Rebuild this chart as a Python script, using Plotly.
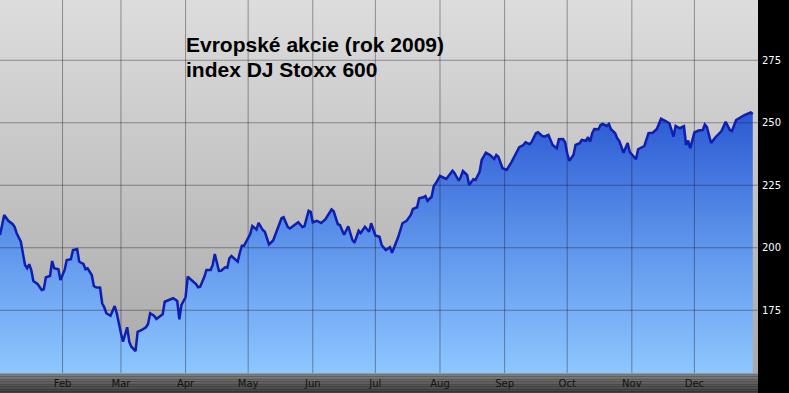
import plotly.graph_objects as go

# ---------------- data ----------------
dates = [
"2009-01-02","2009-01-04","2009-01-06","2009-01-08","2009-01-09","2009-01-10","2009-01-12","2009-01-13","2009-01-14","2009-01-15",
"2009-01-16","2009-01-17","2009-01-18","2009-01-20","2009-01-21","2009-01-22","2009-01-23","2009-01-24","2009-01-26","2009-01-27",
"2009-01-28","2009-01-30","2009-01-31","2009-02-02","2009-02-03","2009-02-05","2009-02-06","2009-02-08","2009-02-09","2009-02-11",
"2009-02-12","2009-02-13","2009-02-15","2009-02-16","2009-02-17","2009-02-19","2009-02-20","2009-02-21","2009-02-22","2009-02-24",
"2009-02-26","2009-02-27","2009-03-01","2009-03-02","2009-03-04","2009-03-05","2009-03-06","2009-03-08","2009-03-09","2009-03-11",
"2009-03-13","2009-03-14","2009-03-15","2009-03-17","2009-03-18","2009-03-20","2009-03-21","2009-03-22","2009-03-25","2009-03-26",
"2009-03-28","2009-03-29","2009-03-30","2009-04-01","2009-04-02","2009-04-04","2009-04-06","2009-04-07","2009-04-08","2009-04-10",
"2009-04-11","2009-04-13","2009-04-14","2009-04-15","2009-04-17","2009-04-18","2009-04-20","2009-04-21","2009-04-22","2009-04-23",
"2009-04-24","2009-04-26","2009-04-27","2009-04-28","2009-04-29","2009-05-01","2009-05-02","2009-05-03","2009-05-05","2009-05-06",
"2009-05-08","2009-05-09","2009-05-11","2009-05-13","2009-05-15","2009-05-17","2009-05-18","2009-05-20","2009-05-21","2009-05-23",
"2009-05-25","2009-05-27","2009-05-28","2009-05-30","2009-05-31","2009-06-01","2009-06-03","2009-06-05","2009-06-07","2009-06-10",
"2009-06-11","2009-06-13","2009-06-14","2009-06-16","2009-06-18","2009-06-20","2009-06-21","2009-06-23","2009-06-24","2009-06-26",
"2009-06-28","2009-06-29","2009-07-01","2009-07-03","2009-07-04","2009-07-06","2009-07-08","2009-07-09","2009-07-11","2009-07-12",
"2009-07-14","2009-07-16","2009-07-18","2009-07-19","2009-07-21","2009-07-22","2009-07-24","2009-07-25","2009-07-26","2009-07-28",
"2009-07-29","2009-07-30","2009-08-01","2009-08-03","2009-08-04","2009-08-07","2009-08-08","2009-08-10","2009-08-11","2009-08-12",
"2009-08-14","2009-08-15","2009-08-17","2009-08-18","2009-08-20","2009-08-21","2009-08-23","2009-08-25","2009-08-27","2009-08-28",
"2009-08-29","2009-08-31","2009-09-02","2009-09-04","2009-09-06","2009-09-08","2009-09-10","2009-09-11","2009-09-13","2009-09-14",
"2009-09-16","2009-09-17","2009-09-19","2009-09-20","2009-09-22","2009-09-24","2009-09-26","2009-09-27","2009-09-29","2009-09-30",
"2009-10-01","2009-10-02","2009-10-04","2009-10-05","2009-10-07","2009-10-08","2009-10-10","2009-10-11","2009-10-12","2009-10-13",
"2009-10-14","2009-10-16","2009-10-17","2009-10-18","2009-10-20","2009-10-21","2009-10-22","2009-10-24","2009-10-25","2009-10-26",
"2009-10-28","2009-10-30","2009-10-31","2009-11-01","2009-11-03","2009-11-04","2009-11-07","2009-11-09","2009-11-11","2009-11-13",
"2009-11-15","2009-11-17","2009-11-19","2009-11-21","2009-11-22","2009-11-24","2009-11-26","2009-11-27","2009-11-28","2009-11-29",
"2009-12-01","2009-12-03","2009-12-05","2009-12-06","2009-12-07","2009-12-09","2009-12-11","2009-12-14","2009-12-16","2009-12-18",
"2009-12-19","2009-12-21","2009-12-24","2009-12-25","2009-12-28","2009-12-29",
]

stoxx600 = [
205.1,213.1,210.8,209.5,208.4,205.8,202.4,197.8,193.1,191.8,
193.4,191.1,186.7,185.5,184.2,183.1,183.4,188.2,188.7,194.7,
191.8,191.4,187.1,191.1,195.1,195.4,199.1,199.5,194.4,193.5,
191.4,191.8,189.1,184.7,184.2,184.0,177.8,176.2,173.8,172.8,
176.7,173.8,165.8,162.4,168.2,162.3,160.4,158.7,166.4,167.1,
168.2,169.5,173.8,172.7,171.5,172.7,173.4,178.4,179.4,179.8,
178.7,171.4,177.1,180.2,188.4,186.8,185.5,184.2,184.4,188.4,
191.1,191.1,193.1,197.5,190.7,190.8,192.2,192.0,195.8,196.7,
195.8,194.4,198.0,200.8,200.8,204.2,205.5,208.7,207.3,210.0,
207.1,206.4,201.3,202.9,207.8,211.8,212.2,208.3,207.7,208.9,
210.2,208.3,208.6,214.8,214.4,210.2,210.8,209.9,211.3,215.3,
214.6,209.4,209.1,205.2,208.6,203.1,202.0,206.8,205.9,208.4,
206.4,209.8,204.9,204.4,201.1,199.1,200.2,198.0,201.8,204.4,
209.8,210.8,213.1,215.5,216.2,219.8,220.2,220.7,218.8,220.4,
224.7,225.8,228.7,228.0,227.5,230.8,229.8,226.8,228.4,230.7,
229.1,225.1,227.4,227.1,230.4,235.1,238.0,237.1,235.5,237.1,
236.4,231.8,231.1,233.8,237.1,240.2,241.1,242.2,241.4,242.4,
245.8,246.2,244.7,244.4,245.1,241.1,239.8,243.4,243.5,242.2,
237.8,234.8,237.1,241.1,241.8,243.1,242.8,244.2,242.4,245.8,
247.5,247.4,249.1,249.5,248.7,249.5,247.4,245.8,243.8,242.7,
238.0,241.9,238.3,237.4,235.4,239.4,240.7,245.8,246.0,247.5,
251.6,250.8,249.8,244.5,248.7,247.8,248.6,241.1,242.9,239.8,
246.1,246.9,247.1,249.3,248.3,241.9,244.1,246.7,250.4,247.1,
246.7,251.1,252.7,253.1,254.1,253.5,
]

month_ticks = ["2009-02-01","2009-03-01","2009-04-01","2009-05-01","2009-06-01","2009-07-01",
               "2009-08-01","2009-09-01","2009-10-01","2009-11-01","2009-12-01"]
month_labels = ["Feb","Mar","Apr","May","Jun","Jul","Aug","Sep","Oct","Nov","Dec"]
y_ticks = [175, 200, 225, 250, 275]
y_labels = ["175", "200", "225", "250", "275"]

title_line1 = "Evropské akcie (rok 2009)"
title_line2 = "index DJ Stoxx 600"

# ---------------- styling ----------------
X_RANGE = ["2009-01-02", "2009-12-31 12:00"]
Y_RANGE = [149.9, 299.1]
W, H = 789, 393
ML, MR, MT, MB = 0, 31, 0, 20
PLOT_H = H - MT - MB

fig = go.Figure()

# background gradient of plot area
fig.add_trace(go.Scatter(
    x=[X_RANGE[0], X_RANGE[1], X_RANGE[1], X_RANGE[0], X_RANGE[0]],
    y=[Y_RANGE[0], Y_RANGE[0], Y_RANGE[1], Y_RANGE[1], Y_RANGE[0]],
    mode="none", fill="toself",
    fillgradient=dict(type="vertical", start=Y_RANGE[0], stop=Y_RANGE[1],
                      colorscale=[[0, "#a9a9a9"], [1, "#dddddd"]]),
    hoverinfo="skip", showlegend=False,
))

# gradient area under the index
fig.add_trace(go.Scatter(
    x=dates, y=stoxx600, mode="none", fill="tozeroy",
    fillgradient=dict(type="vertical", start=150, stop=256,
                      colorscale=[[0, "#8ec6ff"], [0.5, "#5d93ea"], [1, "#2a57d2"]]),
    hoverinfo="skip", showlegend=False,
))

# grid lines (drawn above the area, below the line)
gx, gy = [], []
for t in y_ticks:
    gx += [X_RANGE[0], X_RANGE[1], None]
    gy += [t, t, None]
for m in month_ticks:
    gx += [m, m, None]
    gy += [Y_RANGE[0], Y_RANGE[1], None]
fig.add_trace(go.Scatter(
    x=gx, y=gy, mode="lines",
    line=dict(color="rgba(20,20,40,0.40)", width=1),
    hoverinfo="skip", showlegend=False,
))

# index line
fig.add_trace(go.Scatter(
    x=dates, y=stoxx600, mode="lines",
    line=dict(color="#0c1eb4", width=2.5),
    showlegend=False,
))

# bottom bar gradient (bands)
bar_cols = ["#9a9a9a", "#7c7c7c", "#767676", "#707070", "#6a6a6a", "#636363",
            "#5d5d5d", "#575757", "#515151", "#4b4b4b", "#464646", "#414141"]
band = MB / len(bar_cols)
shapes = []
for i, c in enumerate(bar_cols):
    y1 = -(i * band) / PLOT_H
    y0 = -((i + 1) * band) / PLOT_H
    shapes.append(dict(type="rect", xref="paper", yref="paper",
                       x0=0, x1=1, y0=y0, y1=y1,
                       fillcolor=c, line=dict(width=0), layer="below"))

fig.update_layout(
    width=W, height=H,
    margin=dict(l=ML, r=MR, t=MT, b=MB, pad=0),
    paper_bgcolor="#000000",
    plot_bgcolor="#c8c8c8",
    showlegend=False,
    shapes=shapes,
    xaxis=dict(type="date", range=X_RANGE, tickvals=month_ticks, ticktext=month_labels,
               showgrid=False, zeroline=False, showline=False, ticks="",
               tickfont=dict(family="DejaVu Sans", size=10, color="#111111"),
               ticklabelstandoff=3, fixedrange=True),
    yaxis=dict(range=Y_RANGE, side="right", tickvals=y_ticks, ticktext=y_labels,
               showgrid=False, zeroline=False, showline=False, ticks="",
               tickfont=dict(family="DejaVu Sans", size=10, color="#ffffff"),
               ticklabelstandoff=3, fixedrange=True),
    annotations=[
        dict(text=title_line1, xref="paper", yref="paper",
             x=184 / (W - ML - MR), y=1 - 45 / PLOT_H, xanchor="left", yanchor="middle",
             showarrow=False,
             font=dict(family="Liberation Sans, Arial, sans-serif", size=21, color="#000000"),
             ),
        dict(text=title_line2, xref="paper", yref="paper",
             x=184 / (W - ML - MR), y=1 - 69 / PLOT_H, xanchor="left", yanchor="middle",
             showarrow=False,
             font=dict(family="Liberation Sans, Arial, sans-serif", size=21, color="#000000"),
             ),
    ],
)
# bold titles
for a in fig.layout.annotations:
    a.text = "<b>" + a.text + "</b>"

fig.write_html("out.html", config={"displayModeBar": False})
